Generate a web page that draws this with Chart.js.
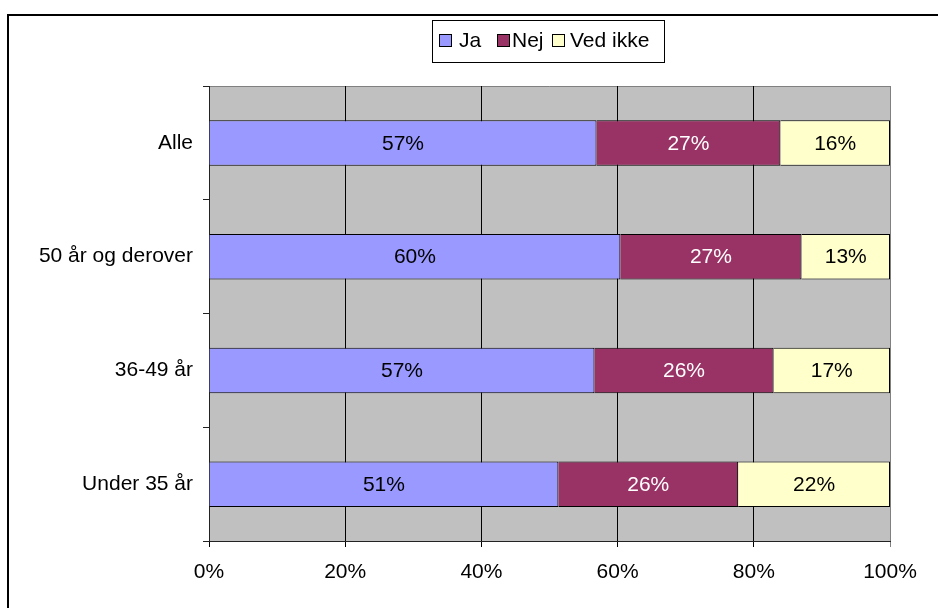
<!DOCTYPE html>
<html>
<head>
<meta charset="utf-8">
<script src="https://cdn.jsdelivr.net/npm/chart.js@4.4.1/dist/chart.umd.min.js"></script>
<style>
  html, body { margin: 0; padding: 0; background: #fff; }
  #wrap { position: relative; width: 938px; height: 608px; }
</style>
</head>
<body>
<div id="wrap"><canvas id="c" width="938" height="608"></canvas></div>
<script>
// ---- Data ----
const categories = ['Alle', '50 år og derover', '36-49 år', 'Under 35 år'];
const seriesNames = ['Ja', 'Nej', 'Ved ikke'];
const jaValues = [56.9, 60.4, 56.6, 51.3];
const nejValues = [27.0, 26.6, 26.3, 26.4];
const vedIkkeValues = [16.1, 13.0, 17.1, 22.3];
const xTickValues = [0, 20, 40, 60, 80, 100];

const FONT = "'Liberation Sans', Arial, sans-serif";
const seriesColors = ['#9999FF', '#993366', '#FFFFCC'];
const labelColors = ['#000000', '#FFFFFF', '#000000'];

const bgPlugin = {
  id: 'bg',
  beforeDraw(chart) {
    const ctx = chart.ctx, a = chart.chartArea;
    ctx.save();
    ctx.fillStyle = '#fff';
    ctx.fillRect(0, 0, chart.width, chart.height);
    // outer frame
    ctx.strokeStyle = '#000';
    ctx.lineWidth = 2;
    ctx.strokeRect(8, 15, 960, 640);
    // plot area
    ctx.fillStyle = '#C0C0C0';
    ctx.fillRect(a.left, a.top, a.right - a.left, a.bottom - a.top);
    ctx.strokeStyle = '#808080';
    ctx.lineWidth = 1;
    ctx.beginPath();
    ctx.moveTo(a.left, a.top + 0.5);
    ctx.lineTo(a.right + 0.5, a.top + 0.5);
    ctx.lineTo(a.right + 0.5, a.bottom);
    ctx.stroke();
    ctx.restore();
  }
};

const labelPlugin = {
  id: 'vlabels',
  afterDatasetsDraw(chart) {
    const ctx = chart.ctx;
    ctx.save();
    ctx.font = '21px ' + FONT;
    ctx.textAlign = 'center';
    ctx.textBaseline = 'middle';
    chart.data.datasets.forEach((ds, i) => {
      const meta = chart.getDatasetMeta(i);
      meta.data.forEach((el, j) => {
        const p = el.getCenterPoint();
        ctx.fillStyle = labelColors[i];
        ctx.fillText(Math.round(ds.data[j]) + '%', p.x, p.y + 1);
      });
    });
    ctx.restore();
  }
};

const legendPlugin = {
  id: 'boxlegend',
  afterDraw(chart) {
    const ctx = chart.ctx;
    ctx.save();
    ctx.strokeStyle = '#000';
    ctx.lineWidth = 1;
    ctx.strokeRect(432.5, 20.5, 232, 42);
    const swatchX = [439, 497, 552];
    const textX = [459, 512, 570];
    ctx.font = '21px ' + FONT;
    ctx.textBaseline = 'middle';
    ctx.textAlign = 'left';
    seriesNames.forEach((name, i) => {
      ctx.fillStyle = seriesColors[i];
      ctx.fillRect(swatchX[i] + 0.5, 34.5, 12, 12);
      ctx.strokeStyle = '#000';
      ctx.strokeRect(swatchX[i] + 0.5, 34.5, 12, 12);
      ctx.fillStyle = '#000';
      ctx.fillText(name, textX[i], 41.5);
    });
    ctx.restore();
  }
};

const datasets = [jaValues, nejValues, vedIkkeValues].map((vals, i) => ({
  label: seriesNames[i],
  data: vals,
  backgroundColor: seriesColors[i],
  borderColor: '#000',
  borderWidth: 1,
  borderSkipped: 'start',
  barPercentage: 0.4,
  categoryPercentage: 1.0
}));

new Chart(document.getElementById('c'), {
  type: 'bar',
  data: { labels: categories, datasets },
  options: {
    indexAxis: 'y',
    responsive: false,
    animation: false,
    devicePixelRatio: 1,
    layout: { padding: { left: 0, right: 48, top: 86, bottom: 0 } },
    plugins: { legend: { display: false }, tooltip: { enabled: false } },
    scales: {
      x: {
        stacked: true,
        min: 0,
        max: 100,
        afterBuildTicks(scale) { scale.ticks = xTickValues.map(v => ({ value: v })); },
        afterFit(scale) { scale.height = 67; },
        ticks: {
          font: { family: FONT, size: 21 },
          color: '#000',
          padding: 13,
          callback: v => v + '%'
        },
        grid: {
          drawOnChartArea: true,
          tickLength: 6,
          color: c => (c.tick && c.tick.value === 100) ? '#808080' : '#000',
          lineWidth: 1
        },
        border: { display: true, color: '#222', width: 1 }
      },
      y: {
        stacked: true,
        afterFit(scale) { scale.width = 209; },
        ticks: {
          font: { family: FONT, size: 21 },
          color: '#000',
          padding: 10
        },
        grid: {
          offset: true,
          drawOnChartArea: false,
          tickLength: 6,
          color: '#222'
        },
        border: { display: true, color: '#222', width: 1 }
      }
    }
  },
  plugins: [bgPlugin, labelPlugin, legendPlugin]
});
</script>
</body>
</html>
